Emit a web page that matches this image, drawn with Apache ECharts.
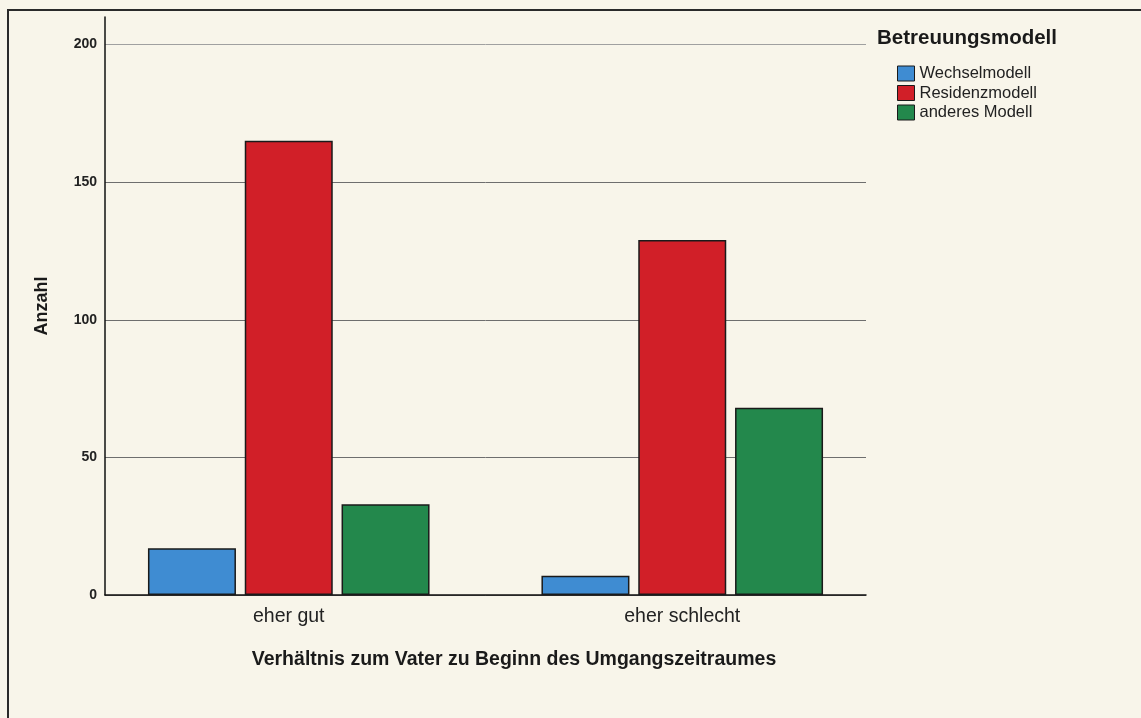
<!DOCTYPE html>
<html>
<head>
<meta charset="utf-8">
<script src="https://cdn.jsdelivr.net/npm/echarts@6/dist/echarts.min.js"></script>
<style>
html,body{margin:0;padding:0;background:#f8f5ea;}
#chart{width:1141px;height:718px;}
</style>
</head>
<body>
<div id="chart"></div>
<script>
const categories = ['eher gut', 'eher schlecht'];
const seriesNames = ['Wechselmodell', 'Residenzmodell', 'anderes Modell'];
const wechsel = [17, 7];
const residenz = [165, 129];
const anderes = [33, 68];
const yTicks = [0, 50, 100, 150, 200];
const legendTitle = 'Betreuungsmodell';
const xTitle = 'Verhältnis zum Vater zu Beginn des Umgangszeitraumes';
const yTitle = 'Anzahl';

const colors = ['#3f8cd2', '#d11f28', '#23884c'];
const font = 'Liberation Sans, Arial, sans-serif';
const values = [wechsel, residenz, anderes];

const chart = echarts.init(document.getElementById('chart'));
chart.setOption({
  backgroundColor: '#f8f5ea',
  animation: false,
  textStyle: { fontFamily: font },
  legend: {
    data: seriesNames,
    orient: 'vertical',
    left: 897, top: 65, padding: 0,
    itemWidth: 17, itemHeight: 15, itemGap: 2.5,
    itemStyle: { borderColor: '#1a1a1a', borderWidth: 1 },
    icon: 'rect',
    textStyle: { fontSize: 16.5, color: '#222', fontFamily: font }
  },
  graphic: [
    { type: 'rect', shape: { x: 8, y: 10, width: 1200, height: 800 }, style: { fill: 'none', stroke: '#2a2a2a', lineWidth: 2 }, silent: true },
    { type: 'text', x: 877, y: 28, style: { text: legendTitle, font: 'bold 20.5px ' + font, fill: '#1a1a1a' } },
    { type: 'text', x: 514, y: 660, style: { text: xTitle, font: 'bold 19.5px ' + font, fill: '#1a1a1a', align: 'center', verticalAlign: 'middle' } }
  ],
  grid: [
    { left: 105, top: 17, width: 761, height: 578 },
    { left: 92, top: 17, width: 787, height: 578 }
  ],
  xAxis: [
    { gridIndex: 0, type: 'category', data: categories,
      axisLine: { lineStyle: { color: '#111', width: 1.5 } },
      axisTick: { show: false }, axisLabel: { show: false } },
    { gridIndex: 1, type: 'category', data: categories,
      axisLine: { show: false }, axisTick: { show: false },
      axisLabel: { fontSize: 19.5, color: '#222', margin: 12, fontFamily: font } }
  ],
  yAxis: [
    { gridIndex: 0, type: 'value', min: 0, max: 210, interval: 50,
      name: yTitle, nameLocation: 'middle', nameGap: 54,
      nameTextStyle: { fontSize: 18, fontWeight: 'bold', color: '#1a1a1a', fontFamily: font },
      axisLine: { show: true, lineStyle: { color: '#111', width: 1.5 } },
      axisTick: { show: false },
      axisLabel: { fontSize: 14, fontWeight: 'bold', color: '#222', margin: 8,
        formatter: v => (yTicks.indexOf(v) >= 0 ? String(v) : '') },
      splitLine: { show: true, lineStyle: { color: ['#6e6e6e', '#6e6e6e', '#6e6e6e', '#6e6e6e', '#a0a0a0', 'rgba(0,0,0,0)'], width: 1 } }
    },
    { gridIndex: 1, type: 'value', min: 0, max: 210, show: false, splitLine: { show: false } }
  ],
  series: values.map((d, i) => ({
    name: seriesNames[i],
    type: 'bar',
    xAxisIndex: 1, yAxisIndex: 1,
    data: d,
    barWidth: 88,
    barGap: '10%',
    itemStyle: { color: colors[i], borderColor: '#1a1a1a', borderWidth: 1.5 }
  }))
});
</script>
</body>
</html>
